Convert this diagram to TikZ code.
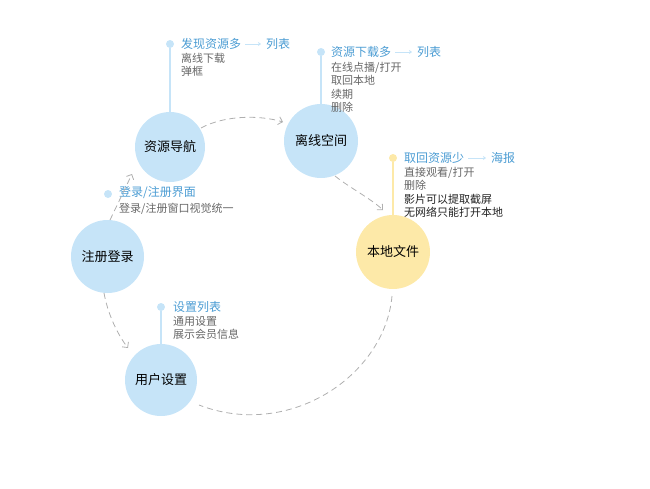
\documentclass[tikz,border=0pt]{standalone}
\usepackage{fontspec}
\setmainfont{Noto Sans CJK SC}
\usetikzlibrary{arrows.meta}
\definecolor{cblue}{HTML}{C6E4F8}
\definecolor{cyellow}{HTML}{FDE9A8}
\definecolor{tblue}{HTML}{4B9CD3}
\definecolor{tgray}{HTML}{666666}
\definecolor{tdark}{HTML}{222222}
\definecolor{dgray}{HTML}{AFAFAF}
\tikzset{
  bigcirc/.style={circle, fill=cblue, minimum size=72pt, inner sep=0pt, font=\fontsize{13}{13}\selectfont, text=black},
  ycirc/.style={bigcirc, fill=cyellow},
  dotb/.style={circle, fill=cblue, minimum size=8pt, inner sep=0pt},
  doty/.style={dotb, fill=cyellow},
  stem/.style={draw=cblue, line width=1.2pt},
  ystem/.style={draw=cyellow, line width=1.2pt},
  ttl/.style={anchor=west, inner sep=0pt, text=tblue, font=\fontsize{12}{12}\selectfont},
  body/.style={anchor=north west, inner sep=0pt, text=tgray, align=left, font=\fontsize{11}{13.3}\selectfont},
  linkarr/.style={draw=cblue, line width=1pt, -{Stealth[length=3pt,width=4pt]}, shorten <=4pt, shorten >=5pt},
  flow/.style={draw=dgray, line width=0.8pt, dash pattern=on 6pt off 4pt},
  flowarr/.style={flow, -{Straight Barb[length=4pt,width=8pt]}}
}
\begin{document}
\begin{tikzpicture}[x=1pt,y=-1pt]
\useasboundingbox (0,0) rectangle (650,488);

% circles
\node[bigcirc, minimum size=70pt] (nav) at (170,147) {资源导航};
\node[bigcirc, minimum size=74pt] (off) at (321,141) {离线空间};
\node[ycirc, minimum size=74pt] (loc) at (393,252) {本地文件};
\node[bigcirc, minimum size=73pt] (log) at (107.5,256.5) {注册登录};
\node[bigcirc, minimum size=72pt] (set) at (161,380) {用户设置};

% callout: nav
\node[dotb] (dnav) at (170,44) {};
\draw[stem] (dnav) -- (nav.north);
\node[ttl] (tnav) at (181,44) {发现资源多};
\node[ttl] (lnav) at (266,44) {列表};
\draw[linkarr] (tnav.east) -- (lnav.west);
\node[body] (bnav) at (181,53) {离线下载\\弹框};

% callout: off
\node[dotb] (doff) at (321,52) {};
\draw[stem] (doff) -- (off.north);
\node[ttl] (toff) at (331,52) {资源下载多};
\node[ttl] (loff) at (417,52) {列表};
\draw[linkarr] (toff.east) -- (loff.west);
\node[body] (boff) at (331,62) {在线点播/打开\\取回本地\\续期\\删除};

% callout: loc
\node[doty] (dloc) at (393,158) {};
\draw[ystem] (dloc) -- (loc.north);
\node[ttl] (tloc) at (404,158) {取回资源少};
\node[ttl] (lloc) at (491,158) {海报};
\draw[linkarr] (tloc.east) -- (lloc.west);
\node[body] (bloc) at (404,167) {直接观看/打开\\删除\\{\color{tdark}影片可以提取截屏}\\{\color{tdark}无网络只能打开本地}};

% callout: login
\node[dotb] (dlog) at (108,194) {};
\node[ttl] (tlog) at (119,193) {登录/注册界面};
\node[body] (blog) at (119,203) {登录/注册窗口视觉统一};

% callout: settings
\node[dotb] (dset) at (161,307) {};
\draw[stem] (dset) -- (set.north);
\node[ttl] (tset) at (173,307) {设置列表};
\node[body] (bset) at (173,316) {通用设置\\展示会员信息};

% flow end points
\coordinate (e1) at (283,122);
\coordinate (e2) at (383,210);
\coordinate (e3) at (199,405);
\coordinate (e4) at (128,348);
\coordinate (e5) at (132,174);
\coordinate (s1) at (201,128);
\coordinate (s2) at (335,176);
\coordinate (s3) at (392,296);
\coordinate (s4) at (104,293);
\coordinate (s5) at (110,220);

% flow arrows
\draw[flowarr] (s1) .. controls (225,115) and (260,115) .. (e1);
\draw[flowarr] (s2) .. controls (350,188) and (370,198) .. (e2);
\draw[flow] (s3) .. controls (385,375) and (290,440) .. (e3);
\draw[flowarr] (s4) .. controls (108,315) and (118,335) .. (e4);
\draw[flowarr] (s5) -- (e5);
\end{tikzpicture}
\end{document}
